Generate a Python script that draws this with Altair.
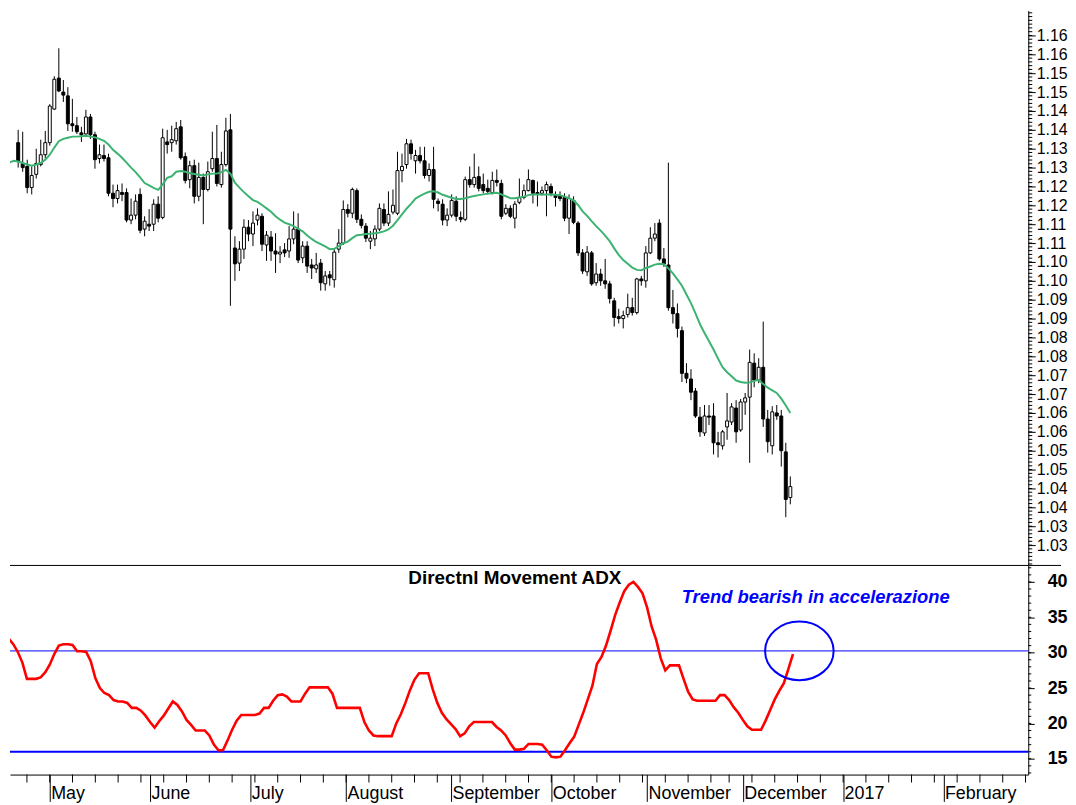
import altair as alt
import pandas as pd

# ---------------- data (EUR/USD daily candles, trading-day index 0 = 2 May 2016) -------------
day = list(range(-10, 164))

open_ = [1.1311, 1.1324, 1.1366, 1.1311, 1.1303, 1.1247, 1.1282, 1.1308, 1.1334, 1.1366,
         1.1455, 1.1537, 1.1500, 1.1490, 1.1416, 1.1411, 1.1392, 1.1389, 1.1434, 1.1387,
         1.1324, 1.1332, 1.1326, 1.1232, 1.1218, 1.1234, 1.1234, 1.1161, 1.1174, 1.1229,
         1.1137, 1.1150, 1.1150, 1.1203, 1.1168, 1.1368, 1.1366, 1.1371, 1.1408, 1.1329,
         1.1268, 1.1305, 1.1224, 1.1274, 1.1242, 1.1297, 1.1324, 1.1255, 1.1308, 1.1400,
         1.1087, 1.1047, 1.1084, 1.1142, 1.1124, 1.1161, 1.1171, 1.1095, 1.1116, 1.1079,
         1.1071, 1.1082, 1.1079, 1.1111, 1.1137, 1.1061, 1.1092, 1.1042, 1.1032, 1.1047,
         1.0992, 1.1016, 1.1003, 1.1084, 1.1100, 1.1189, 1.1179, 1.1239, 1.1163, 1.1145,
         1.1105, 1.1111, 1.1137, 1.1189, 1.1153, 1.1182, 1.1179, 1.1292, 1.1308, 1.1363,
         1.1318, 1.1332, 1.1318, 1.1279, 1.1295, 1.1211, 1.1203, 1.1161, 1.1174, 1.1211,
         1.1168, 1.1163, 1.1268, 1.1255, 1.1276, 1.1255, 1.1245, 1.1234, 1.1266, 1.1258,
         1.1179, 1.1192, 1.1166, 1.1208, 1.1221, 1.1239, 1.1266, 1.1234, 1.1232, 1.1239,
         1.1250, 1.1226, 1.1224, 1.1221, 1.1166, 1.1213, 1.1153, 1.1074, 1.1024, 1.1074,
         1.0995, 1.1018, 1.1000, 1.0992, 1.0947, 1.0905, 1.0900, 1.0911, 1.0929, 1.0916,
         1.1005, 1.1000, 1.1074, 1.1113, 1.1153, 1.1058, 1.1042, 1.0929, 1.0913, 1.0868,
         1.0755, 1.0740, 1.0708, 1.0639, 1.0597, 1.0642, 1.0642, 1.0571, 1.0563, 1.0613,
         1.0626, 1.0663, 1.0605, 1.0679, 1.0692, 1.0782, 1.0737, 1.0771, 1.0634, 1.0563,
         1.0650, 1.0642, 1.0547, 1.0426]

high = [1.1342, 1.1400, 1.1400, 1.1395, 1.1321, 1.1303, 1.1350, 1.1374, 1.1397, 1.1468,
        1.1542, 1.1616, 1.1532, 1.1513, 1.1482, 1.1434, 1.1408, 1.1453, 1.1442, 1.1395,
        1.1361, 1.1361, 1.1337, 1.1255, 1.1255, 1.1258, 1.1245, 1.1218, 1.1229, 1.1245,
        1.1171, 1.1190, 1.1216, 1.1224, 1.1403, 1.1400, 1.1411, 1.1421, 1.1426, 1.1340,
        1.1318, 1.1321, 1.1313, 1.1284, 1.1316, 1.1395, 1.1413, 1.1342, 1.1432, 1.1442,
        1.1118, 1.1105, 1.1163, 1.1161, 1.1184, 1.1192, 1.1179, 1.1132, 1.1132, 1.1126,
        1.1092, 1.1100, 1.1145, 1.1184, 1.1179, 1.1105, 1.1105, 1.1058, 1.1074, 1.1058,
        1.1026, 1.1026, 1.1084, 1.1137, 1.1213, 1.1203, 1.1247, 1.1245, 1.1176, 1.1153,
        1.1132, 1.1147, 1.1205, 1.1205, 1.1237, 1.1242, 1.1342, 1.1337, 1.1376, 1.1374,
        1.1347, 1.1355, 1.1355, 1.1311, 1.1355, 1.1218, 1.1216, 1.1192, 1.1229, 1.1224,
        1.1184, 1.1276, 1.1303, 1.1337, 1.1303, 1.1284, 1.1268, 1.1289, 1.1295, 1.1268,
        1.1203, 1.1200, 1.1211, 1.1271, 1.1255, 1.1295, 1.1268, 1.1263, 1.1250, 1.1263,
        1.1258, 1.1237, 1.1237, 1.1232, 1.1229, 1.1224, 1.1158, 1.1084, 1.1092, 1.1079,
        1.1047, 1.1032, 1.1058, 1.1000, 1.0955, 1.0926, 1.0921, 1.0966, 1.0955, 1.1008,
        1.1013, 1.1092, 1.1142, 1.1153, 1.1163, 1.1087, 1.1313, 1.0976, 1.0940, 1.0879,
        1.0782, 1.0766, 1.0716, 1.0666, 1.0671, 1.0671, 1.0676, 1.0600, 1.0605, 1.0703,
        1.0676, 1.0684, 1.0687, 1.0703, 1.0818, 1.0808, 1.0795, 1.0892, 1.0658, 1.0668,
        1.0671, 1.0658, 1.0571, 1.0482]

low = [1.1289, 1.1311, 1.1300, 1.1289, 1.1232, 1.1229, 1.1271, 1.1303, 1.1324, 1.1358,
       1.1453, 1.1500, 1.1474, 1.1397, 1.1395, 1.1389, 1.1368, 1.1387, 1.1376, 1.1297,
       1.1311, 1.1316, 1.1224, 1.1195, 1.1205, 1.1211, 1.1155, 1.1150, 1.1163, 1.1126,
       1.1118, 1.1132, 1.1132, 1.1155, 1.1163, 1.1337, 1.1342, 1.1361, 1.1321, 1.1258,
       1.1245, 1.1205, 1.1211, 1.1150, 1.1237, 1.1289, 1.1250, 1.1247, 1.1303, 1.0934,
       1.1000, 1.1026, 1.1058, 1.1105, 1.1092, 1.1147, 1.1079, 1.1053, 1.1053, 1.1021,
       1.1047, 1.1063, 1.1061, 1.1097, 1.1047, 1.1047, 1.1021, 1.1005, 1.1021, 1.0974,
       1.0974, 1.0987, 1.0982, 1.1074, 1.1095, 1.1168, 1.1166, 1.1153, 1.1139, 1.1103,
       1.1084, 1.1092, 1.1132, 1.1145, 1.1145, 1.1176, 1.1174, 1.1261, 1.1297, 1.1321,
       1.1284, 1.1311, 1.1271, 1.1263, 1.1192, 1.1184, 1.1147, 1.1145, 1.1168, 1.1158,
       1.1155, 1.1158, 1.1247, 1.1247, 1.1237, 1.1232, 1.1229, 1.1229, 1.1250, 1.1163,
       1.1174, 1.1166, 1.1139, 1.1203, 1.1216, 1.1237, 1.1205, 1.1197, 1.1226, 1.1171,
       1.1224, 1.1197, 1.1211, 1.1158, 1.1124, 1.1150, 1.1066, 1.1018, 1.1013, 1.0987,
       1.0987, 1.0987, 1.0979, 1.0940, 1.0879, 1.0887, 1.0874, 1.0903, 1.0908, 1.0911,
       1.0987, 1.0982, 1.1071, 1.1105, 1.1053, 1.1037, 1.0921, 1.0887, 1.0850, 1.0732,
       1.0729, 1.0684, 1.0637, 1.0587, 1.0589, 1.0618, 1.0540, 1.0532, 1.0553, 1.0579,
       1.0618, 1.0571, 1.0600, 1.0645, 1.0518, 1.0718, 1.0729, 1.0613, 1.0545, 1.0540,
       1.0632, 1.0508, 1.0374, 1.0408]

close = [1.1324, 1.1371, 1.1316, 1.1300, 1.1247, 1.1279, 1.1311, 1.1334, 1.1366, 1.1463,
         1.1534, 1.1503, 1.1492, 1.1416, 1.1411, 1.1395, 1.1387, 1.1434, 1.1387, 1.1321,
         1.1334, 1.1324, 1.1232, 1.1218, 1.1239, 1.1229, 1.1161, 1.1174, 1.1211, 1.1134,
         1.1158, 1.1145, 1.1203, 1.1166, 1.1379, 1.1361, 1.1374, 1.1403, 1.1326, 1.1266,
         1.1305, 1.1224, 1.1274, 1.1242, 1.1289, 1.1324, 1.1258, 1.1308, 1.1397, 1.1137,
         1.1045, 1.1084, 1.1142, 1.1124, 1.1153, 1.1174, 1.1097, 1.1121, 1.1079, 1.1071,
         1.1076, 1.1074, 1.1111, 1.1137, 1.1055, 1.1092, 1.1039, 1.1034, 1.1042, 1.0995,
         1.1013, 1.1008, 1.1076, 1.1100, 1.1189, 1.1179, 1.1242, 1.1163, 1.1147, 1.1113,
         1.1113, 1.1137, 1.1192, 1.1153, 1.1176, 1.1200, 1.1292, 1.1303, 1.1363, 1.1337,
         1.1332, 1.1318, 1.1279, 1.1295, 1.1216, 1.1205, 1.1161, 1.1174, 1.1213, 1.1171,
         1.1163, 1.1268, 1.1255, 1.1274, 1.1245, 1.1239, 1.1237, 1.1266, 1.1261, 1.1171,
         1.1192, 1.1171, 1.1203, 1.1221, 1.1239, 1.1268, 1.1232, 1.1229, 1.1239, 1.1255,
         1.1232, 1.1221, 1.1218, 1.1166, 1.1218, 1.1155, 1.1074, 1.1026, 1.1076, 1.0992,
         1.1018, 1.1000, 1.0992, 1.0953, 1.0903, 1.0900, 1.0908, 1.0929, 1.0916, 1.1005,
         1.1000, 1.1074, 1.1113, 1.1124, 1.1058, 1.1045, 1.0929, 1.0913, 1.0874, 1.0755,
         1.0742, 1.0705, 1.0642, 1.0600, 1.0642, 1.0639, 1.0571, 1.0566, 1.0600, 1.0629,
         1.0666, 1.0600, 1.0679, 1.0690, 1.0784, 1.0737, 1.0771, 1.0634, 1.0574, 1.0653,
         1.0642, 1.0550, 1.0421, 1.0455]

moving_avg = [1.1313, 1.1318, 1.1316, 1.1312, 1.1308, 1.1305, 1.1308, 1.1312, 1.1321, 1.1334,
              1.1353, 1.1370, 1.1376, 1.1379, 1.1382, 1.1382, 1.1383, 1.1384, 1.1382, 1.1380,
              1.1376, 1.1371, 1.1361, 1.1347, 1.1337, 1.1326, 1.1313, 1.1300, 1.1288, 1.1274,
              1.1259, 1.1253, 1.1246, 1.1241, 1.1255, 1.1273, 1.1277, 1.1289, 1.1291, 1.1289,
              1.1285, 1.1283, 1.1281, 1.1279, 1.1282, 1.1284, 1.1284, 1.1288, 1.1294, 1.1284,
              1.1260, 1.1247, 1.1235, 1.1224, 1.1214, 1.1209, 1.1201, 1.1192, 1.1183, 1.1171,
              1.1162, 1.1154, 1.1150, 1.1145, 1.1138, 1.1131, 1.1120, 1.1111, 1.1103, 1.1097,
              1.1091, 1.1084, 1.1085, 1.1092, 1.1099, 1.1104, 1.1113, 1.1121, 1.1122, 1.1124,
              1.1125, 1.1126, 1.1128, 1.1131, 1.1136, 1.1146, 1.1161, 1.1176, 1.1191, 1.1204,
              1.1218, 1.1225, 1.1231, 1.1236, 1.1237, 1.1234, 1.1228, 1.1224, 1.1220, 1.1217,
              1.1217, 1.1219, 1.1222, 1.1225, 1.1227, 1.1229, 1.1231, 1.1232, 1.1233, 1.1229,
              1.1224, 1.1219, 1.1219, 1.1221, 1.1223, 1.1227, 1.1229, 1.1229, 1.1229, 1.1229,
              1.1229, 1.1228, 1.1227, 1.1223, 1.1219, 1.1213, 1.1201, 1.1184, 1.1172, 1.1158,
              1.1145, 1.1133, 1.1120, 1.1105, 1.1086, 1.1069, 1.1055, 1.1045, 1.1035, 1.1029,
              1.1028, 1.1034, 1.1038, 1.1043, 1.1045, 1.1044, 1.1033, 1.1020, 1.1004, 1.0987,
              1.0964, 1.0941, 1.0914, 1.0885, 1.0862, 1.0840, 1.0818, 1.0794, 1.0771, 1.0758,
              1.0747, 1.0736, 1.0732, 1.0730, 1.0731, 1.0735, 1.0737, 1.0727, 1.0717, 1.0710,
              1.0703, 1.0688, 1.0670, 1.0650]

adx = [32.2, 32.0, 31.2, 30.1, 28.6, 26.3, 26.3, 26.3, 26.5, 27.2,
       28.3, 29.8, 31.0, 31.2, 31.2, 31.1, 30.2, 30.2, 30.1, 28.8,
       26.4, 25.0, 24.3, 24.0, 23.3, 23.1, 23.1, 22.9, 22.2, 22.2,
       21.8, 21.1, 20.2, 19.4, 20.3, 21.1, 22.1, 23.1, 22.6, 21.7,
       20.5, 19.8, 19.0, 19.0, 19.0, 18.3, 17.0, 16.2, 16.2, 17.6,
       19.1, 20.4, 21.2, 21.2, 21.2, 21.2, 21.4, 22.2, 22.2, 23.2,
       24.0, 24.1, 23.8, 23.1, 23.1, 23.1, 24.2, 25.1, 25.1, 25.1,
       25.1, 25.1, 24.2, 22.2, 22.2, 22.2, 22.2, 22.2, 22.2, 20.2,
       19.0, 18.3, 18.2, 18.2, 18.2, 18.2, 20.0, 21.3, 22.9, 24.7,
       26.2, 27.1, 27.1, 27.1, 24.8, 22.9, 21.5, 20.6, 19.9, 19.2,
       18.2, 18.6, 19.6, 20.2, 20.2, 20.2, 20.2, 20.2, 19.5, 19.0,
       18.3, 17.2, 16.3, 16.3, 16.4, 17.1, 17.1, 17.1, 17.0, 16.2,
       15.3, 15.2, 15.3, 16.2, 17.2, 18.1, 19.8, 21.5, 23.4, 25.3,
       28.4, 29.4, 31.0, 33.1, 35.3, 37.1, 38.7, 39.6, 40.0, 39.3,
       38.4, 36.4, 33.7, 31.8, 29.2, 27.5, 28.2, 28.2, 28.2, 26.3,
       24.5, 23.4, 23.2, 23.2, 23.2, 23.2, 23.2, 24.0, 24.0, 23.3,
       22.3, 21.5, 20.5, 19.6, 19.1, 19.1, 19.1, 20.4, 21.9, 23.4,
       24.6, 25.7, 27.7, 29.8]

# axis ticks / labels
price_ticks = [1.165, 1.160, 1.155, 1.150, 1.145, 1.140, 1.135, 1.130, 1.125, 1.120,
               1.115, 1.110, 1.105, 1.100, 1.095, 1.090, 1.085, 1.080, 1.075, 1.070,
               1.065, 1.060, 1.055, 1.050, 1.045, 1.040, 1.035, 1.030]
price_minor = [round(1.025 + 0.001 * i, 3) for i in range(147)]
adx_ticks = [15, 20, 25, 30, 35, 40]
adx_minor = list(range(13, 43))
month_pos = [0, 22, 44, 65, 88, 110, 131, 152, 174, 196]
month_names = ["May", "June", "July", "August", "September", "October",
               "November", "December", "2017", "February"]
week_pos = [-5, 0, 5, 10, 15, 20, 25, 30, 35, 40, 45, 50, 55, 60, 65, 70, 75, 80, 85, 90,
            95, 100, 105, 110, 115, 120, 125, 130, 135, 140, 145, 149, 154, 159, 164, 169,
            174, 179, 184, 189, 194, 199, 204, 209, 214]
adx_levels = [30.25, 16.0]

title_text = "Directnl Movement ADX"
note_text = "Trend bearish in accelerazione"

# ---------------- layout constants -------------
W, H1, H2 = 1025, 558, 211
X_DOMAIN = [-8.715, 214.6]
P_DOMAIN = [1.02474, 1.17158]
A_DOMAIN = [12.77, 42.40]
FONT = "Liberation Sans"

df = pd.DataFrame(dict(day=day, open=open_, high=high, low=low, close=close,
                       ma=moving_avg, adx=adx))

xscale = alt.Scale(domain=X_DOMAIN, nice=False, zero=False)
pscale = alt.Scale(domain=P_DOMAIN, nice=False, zero=False)
ascale = alt.Scale(domain=A_DOMAIN, nice=False, zero=False)

price_axis = alt.Axis(orient="right", values=price_ticks, tickSize=7, labelPadding=1,
                      labelFontSize=16, labelFont=FONT, labelColor="black",
                      labelExpr="format(floor(datum.value*100+0.0001)/100, '.2f')",
                      title=None, grid=False, domainColor="black", tickColor="black",
                      labelOverlap=False, labelFlush=False)
adx_axis = alt.Axis(orient="right", values=adx_ticks, tickSize=6, labelPadding=13,
                    labelFontSize=18, labelFontWeight="bold", labelFont=FONT,
                    labelColor="black", title=None, grid=False, domainColor="black",
                    tickColor="black", labelOverlap=False, labelFlush=False)

expr = "''"
for pos, name in reversed(list(zip(month_pos, month_names))):
    expr = f"datum.value == {pos} ? '{name}' : ({expr})"
month_axis = alt.Axis(values=month_pos, labelExpr=expr, tickSize=27, labelPadding=-3,
                      labelAlign="left", labelBaseline="alphabetic", labelOffset=1,
                      labelFontSize=18, labelFont=FONT, labelColor="black",
                      labelOverlap=False, labelFlush=False, labelBound=False,
                      title=None, grid=False, domainColor="black", tickColor="black")


def tx(f):
    return alt.X(f, type="quantitative", scale=xscale, axis=None)


def bx(f):
    return alt.X(f, type="quantitative", scale=xscale, axis=month_axis)


def py(f):
    return alt.Y(f, type="quantitative", scale=pscale, axis=price_axis)


def ay(f):
    return alt.Y(f, type="quantitative", scale=ascale, axis=adx_axis)


visible = alt.datum.day >= -8

# ---------------- price panel -------------
wicks = alt.Chart(df).transform_filter(visible).mark_rule(color="black", strokeWidth=1).encode(
    x=tx("day"), y=py("low"), y2="high")
bodies = alt.Chart(df).transform_filter(visible).mark_bar(size=3, stroke="black", strokeWidth=1).encode(
    x=tx("day"), y=py("open"), y2="close",
    fill=alt.when(alt.datum.close > alt.datum.open).then(alt.value("white")).otherwise(alt.value("black")))
ma_line = alt.Chart(df).mark_line(color="#3cb371", strokeWidth=2, clip=True).encode(
    x=tx("day"), y=py("ma"))
p_minor = alt.Chart(pd.DataFrame({"v": price_minor})).mark_rule(color="black", strokeWidth=1).encode(
    x=alt.value(W), x2=alt.value(W + 4), y=py("v"))

top = alt.layer(wicks, bodies, ma_line, p_minor).properties(width=W, height=H1)

# ---------------- ADX panel -------------
lvl_thin = alt.Chart(pd.DataFrame({"lv": [adx_levels[0]]})).mark_rule(
    color="#0000ff", strokeWidth=1).encode(y=ay("lv"))
lvl_thick = alt.Chart(pd.DataFrame({"lv": [adx_levels[1]]})).mark_rule(
    color="#0000ff", strokeWidth=2.2).encode(y=ay("lv"))
adx_line = alt.Chart(df).mark_line(color="#ff0000", strokeWidth=2.6, clip=True).encode(
    x=bx("day"), y=ay("adx"))

ELLIPSE = ("M1,0 C1,0.4722 0.5523,0.855 0,0.855 C-0.5523,0.855 -1,0.4722 -1,0 "
           "C-1,-0.4722 -0.5523,-0.855 0,-0.855 C0.5523,-0.855 1,-0.4722 1,0 Z")
ellipse = alt.Chart(pd.DataFrame({"x": [164.4], "y": [30.25]})).mark_point(
    shape=ELLIPSE, size=4761, filled=False, color="#0000ff", strokeWidth=2, opacity=1).encode(
    x=bx("x"), y=ay("y"))

title_t = alt.Chart(pd.DataFrame({"x": [78.65], "y": [40.6], "t": [title_text]})).mark_text(
    align="left", baseline="middle", fontSize=19, fontWeight="bold", font=FONT,
    color="black").encode(x=bx("x"), y=ay("y"), text="t:N")
note_t = alt.Chart(pd.DataFrame({"x": [138.6], "y": [37.9], "t": [note_text]})).mark_text(
    align="left", baseline="middle", fontSize=18.5, fontWeight="bold", fontStyle="italic",
    font=FONT, color="#0000ff").encode(x=bx("x"), y=ay("y"), text="t:N")

weekly = alt.Chart(pd.DataFrame({"wk": week_pos})).mark_rule(color="black", strokeWidth=1).encode(
    x=bx("wk"), y=alt.value(H2), y2=alt.value(H2 + 8))
border = alt.Chart(pd.DataFrame({"b": [0]})).mark_rule(color="black", strokeWidth=1).encode(
    x=alt.value(0), x2=alt.value(W + 33), y=alt.value(0.5))
a_minor = alt.Chart(pd.DataFrame({"m": adx_minor})).mark_rule(color="black", strokeWidth=1).encode(
    x=alt.value(W), x2=alt.value(W + 3), y=ay("m"))

bottom = alt.layer(lvl_thin, lvl_thick, adx_line, ellipse, title_t, note_t,
                   weekly, border, a_minor).properties(width=W, height=H2)

chart = (alt.vconcat(top, bottom, spacing=0)
         .resolve_scale(x="independent", y="independent")
         .properties(padding=0, background="white")
         .configure(font=FONT)
         .configure_view(stroke=None, fill="white"))

chart.save("out.html", embed_options={"renderer": "svg", "actions": False})
